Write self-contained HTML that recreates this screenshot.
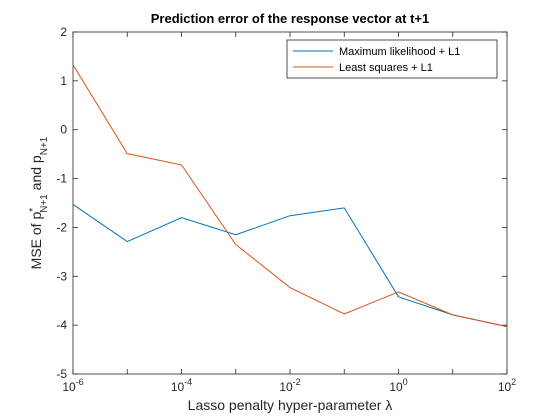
<!DOCTYPE html>
<html><head><meta charset="utf-8"><style>
body{margin:0;background:#fff;}
svg{display:block;font-family:"Liberation Sans","DejaVu Sans",sans-serif;}
</style></head><body>
<svg id="chart" width="560" height="420" viewBox="0 0 560 420">
<rect width="560" height="420" fill="#fff"/>
<text x="290" y="23" text-anchor="middle" font-size="13" font-weight="bold" fill="#000">Prediction error of the response vector at t+1</text>
<g id="plot"></g>
<text x="290" y="410" text-anchor="middle" font-size="14" fill="#262626">Lasso penalty hyper-parameter λ</text>
<text transform="translate(41,203) rotate(-90)" text-anchor="middle" font-size="14" fill="#262626">MSE of p<tspan baseline-shift="super" font-size="10">*</tspan><tspan dx="-5" baseline-shift="sub" font-size="10">N+1</tspan> and p<tspan baseline-shift="sub" font-size="10">N+1</tspan></text>
<g>
<rect x="287" y="40" width="210" height="38" fill="#fff" stroke="#262626" stroke-width="0.8"/>
<line x1="293" y1="51" x2="333" y2="51" stroke="#0072BD" stroke-width="1"/>
<text x="339" y="55" font-size="11" fill="#000">Maximum likelihood + L1</text>
<line x1="293" y1="67" x2="333" y2="67" stroke="#D95319" stroke-width="1"/>
<text x="339" y="71" font-size="11" fill="#000">Least squares + L1</text>
</g>
</svg>
<script>
const xExp = [-6,-5,-4,-3,-2,-1,0,1,2];
const mlValues = [-1.53,-2.29,-1.80,-2.15,-1.76,-1.60,-3.42,-3.79,-4.03];
const lsValues = [1.33,-0.49,-0.72,-2.35,-3.23,-3.77,-3.32,-3.79,-4.03];
const yTicks = [2,1,0,-1,-2,-3,-4,-5];
const xTickLabels = [-6,-4,-2,0,2];
const L=73,R=507,T=32,B=374;
const xs=e=>L+(e+6)/8*(R-L);
const ys=v=>T+(2-v)/7*(B-T);
const NS="http://www.w3.org/2000/svg";
const g=document.getElementById('plot');
function mk(t,a){const e=document.createElementNS(NS,t);for(const k in a)e.setAttribute(k,a[k]);g.appendChild(e);return e;}
const frame=mk('rect',{x:L,y:T,width:R-L,height:B-T,fill:'none',stroke:'#262626','stroke-width':0.8});


yTicks.forEach(v=>{const y=ys(v);
mk('line',{x1:L,y1:y,x2:L+5,y2:y,stroke:'#262626','stroke-width':0.8});
mk('line',{x1:R,y1:y,x2:R-5,y2:y,stroke:'#262626','stroke-width':0.8});
const t=mk('text',{x:L-6,y:y+4,'text-anchor':'end','font-size':12,fill:'#262626'});t.textContent=v;

});
xExp.forEach(e=>{const x=xs(e);
mk('line',{x1:x,y1:B,x2:x,y2:B-5,stroke:'#262626','stroke-width':0.8});
mk('line',{x1:x,y1:T,x2:x,y2:T+5,stroke:'#262626','stroke-width':0.8});});
xTickLabels.forEach(e=>{const x=xs(e);
const t=mk('text',{x:x,y:B+17,'text-anchor':'middle','font-size':12,fill:'#262626'});
t.innerHTML='10<tspan dy="-6" font-size="9">'+e+'</tspan>';

});
function line(vals,c,name){const p=mk('polyline',{points:vals.map((v,i)=>xs(xExp[i])+','+ys(v)).join(' '),fill:'none',stroke:c,'stroke-width':1});

}
line(mlValues,'#0072BD','max-likelihood-line');
line(lsValues,'#D95319','least-squares-line');
</script>
</body></html>
